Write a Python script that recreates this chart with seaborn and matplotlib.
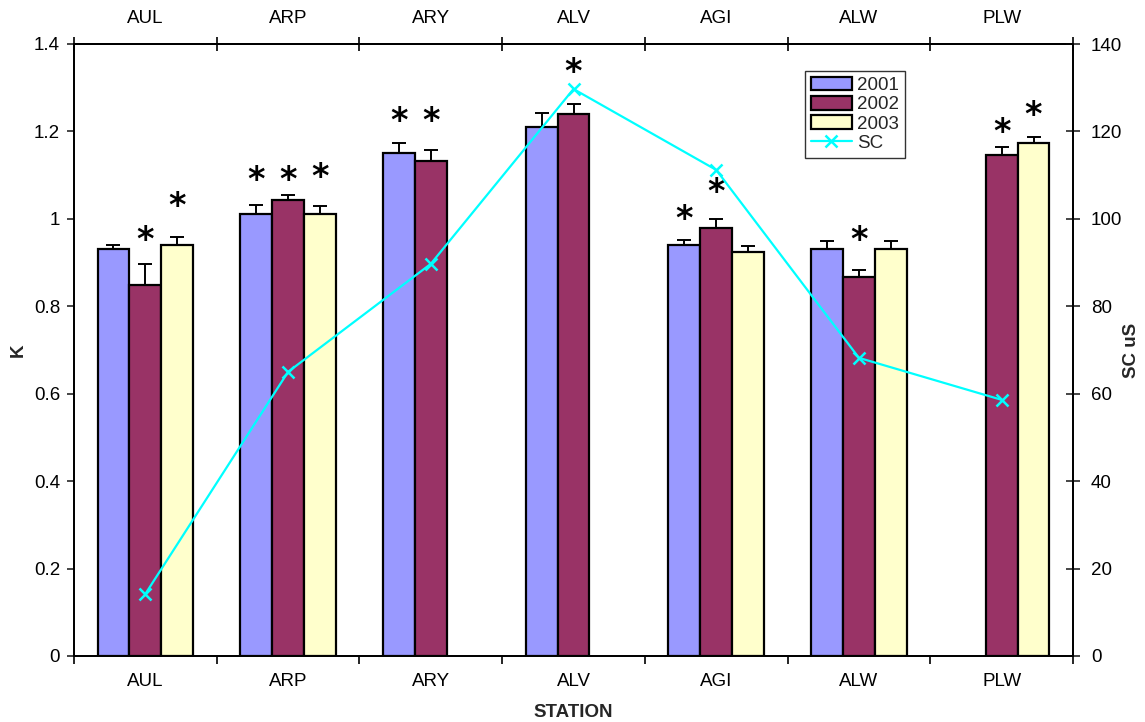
import numpy as np
import pandas as pd
import matplotlib
matplotlib.use("Agg")
import matplotlib.pyplot as plt
import matplotlib.transforms as mtransforms
import seaborn as sns
from matplotlib.lines import Line2D

nan = np.nan
stations = ['AUL', 'ARP', 'ARY', 'ALV', 'AGI', 'ALW', 'PLW']
years = ['2001', '2002', '2003']
k2001 = [0.93, 1.01, 1.151, 1.21, 0.94, 0.931, nan]
k2002 = [0.849, 1.043, 1.132, 1.24, 0.979, 0.867, 1.146]
k2003 = [0.94, 1.011, nan, nan, 0.924, 0.931, 1.174]
err2001 = [0.010, 0.021, 0.022, 0.032, 0.012, 0.019, nan]
err2002 = [0.048, 0.012, 0.026, 0.023, 0.021, 0.016, 0.018]
err2003 = [0.019, 0.019, nan, nan, 0.014, 0.019, 0.013]
sc = [14.2, 65.0, 89.7, 129.7, 111.2, 68.2, 58.6]
# significance asterisks: height (K units) of each asterisk, NaN = none
star2001 = [nan, 1.100, 1.235, nan, 1.011, nan, nan]
star2002 = [0.963, 1.100, 1.235, 1.347, 1.071, 0.963, 1.210]
star2003 = [1.039, 1.105, nan, nan, nan, nan, 1.247]
colors = ['#9999FF', '#993366', '#FFFFCC']
sc_color = '#00FFFF'

sns.set_theme(style='white')
plt.rcParams['font.family'] = ['Liberation Sans', 'DejaVu Sans']
FS = 13.5

df = pd.DataFrame({
    'station': stations * 3,
    'year': sum([[y] * len(stations) for y in years], []),
    'K': k2001 + k2002 + k2003,
})

fig = plt.figure(figsize=(11.45, 7.22), dpi=100)
ax = fig.add_axes([74 / 1145, 66 / 722, 999 / 1145, 612 / 722])
width = 0.67
sns.barplot(data=df, x='station', y='K', hue='year', hue_order=years,
            order=stations, palette=colors, saturation=1, width=width,
            dodge=True, edgecolor='black', linewidth=1.6, errorbar=None, ax=ax)
handles, labels = ax.get_legend_handles_labels()
if ax.get_legend() is not None:
    ax.get_legend().remove()

star_tr = mtransforms.offset_copy(ax.transData, fig=fig, x=0, y=-5, units='dots')
nb = len(years)
bw = width / nb
x = np.arange(len(stations))
for j, (vals, errs, stars) in enumerate(zip([k2001, k2002, k2003],
                                            [err2001, err2002, err2003],
                                            [star2001, star2002, star2003])):
    xs = x + (j - (nb - 1) / 2) * bw
    v = np.array(vals, dtype=float)
    e = np.array(errs, dtype=float)
    m = ~np.isnan(v)
    ax.errorbar(xs[m], v[m], yerr=[np.zeros(m.sum()), e[m]], fmt='none',
                ecolor='black', elinewidth=1.4, capsize=5, capthick=1.4, zorder=1)
    for xi, s in zip(xs, stars):
        if not np.isnan(s):
            ax.text(xi, s, '*', ha='center', va='center', fontsize=24,
                    fontweight='bold', color='black', family='DejaVu Sans',
                    transform=star_tr)

ax.set_xlim(-0.5, len(stations) - 0.5)
ax.set_ylim(0, 1.4)
ax.set_yticks(np.arange(0, 1.41, 0.2))
ax.set_yticklabels(['0', '0.2', '0.4', '0.6', '0.8', '1', '1.2', '1.4'])
ax.set_xticks(np.arange(-0.5, len(stations)), labels=[''] * (len(stations) + 1))
ax.set_xticks(x, labels=stations, minor=True)
ax.tick_params(axis='x', which='major', direction='out', length=6, width=1.2,
               color='black', bottom=True)
ax.tick_params(axis='x', which='minor', length=0, pad=12, labelsize=FS,
               labelcolor='black', bottom=True)
ax.tick_params(axis='y', direction='out', length=5, width=1.2, pad=5,
               labelsize=FS, labelcolor='black', left=True)
ax.set_xlabel('STATION', fontsize=FS, fontweight='bold', labelpad=10)
ax.set_ylabel('K', fontsize=FS, fontweight='bold', rotation=90,
              va='center', ha='center')
ax.yaxis.set_label_coords(-56 / 999, 0.5)
for sp in ax.spines.values():
    sp.set_color('black')
    sp.set_linewidth(1.3)
    sp.set_visible(True)

# top axis duplicate of stations
top = ax.secondary_xaxis('top')
top.set_xticks(np.arange(-0.5, len(stations)), labels=[''] * (len(stations) + 1))
top.set_xticks(x, labels=stations, minor=True)
top.tick_params(axis='x', which='major', direction='inout', length=10, width=1.2,
                color='black')
top.tick_params(axis='x', which='minor', length=0, pad=12, labelsize=FS,
                labelcolor='black')
top.spines['top'].set_color('black')
top.spines['top'].set_linewidth(1.3)

ax2 = ax.twinx()
sns.lineplot(x=x, y=sc, ax=ax2, color=sc_color, marker='x', markersize=9,
             markeredgewidth=1.8, markeredgecolor=sc_color, linewidth=1.6,
             sort=False, legend=False)
ax2.set_ylim(0, 140)
ax2.set_yticks(np.arange(0, 141, 20))
ax2.tick_params(axis='y', direction='inout', length=10, width=1.2, pad=8,
                labelsize=FS, labelcolor='black', right=True)
ax2.set_ylabel('SC uS', fontsize=FS, fontweight='bold', rotation=90,
               va='center', ha='center')
ax2.yaxis.set_label_coords(1 + 58 / 999, 0.5)
for sp in ax2.spines.values():
    sp.set_color('black')
    sp.set_linewidth(1.3)

line_handle = Line2D([], [], color=sc_color, marker='x', markersize=9,
                     markeredgewidth=1.8, linewidth=1.6)
handles = list(handles) + [line_handle]
labels = list(labels) + ['SC']
leg = fig.legend(handles, labels, loc='upper left',
                 bbox_to_anchor=(805 / 1145, 1 - 71 / 722), frameon=True,
                 fancybox=False, edgecolor='black', fontsize=FS,
                 handlelength=2.2, handleheight=0.75, handletextpad=0.3,
                 labelspacing=0.1, borderpad=0.3, borderaxespad=0)
leg.get_frame().set_linewidth(1.0)

fig.savefig('out.png', dpi=100)
